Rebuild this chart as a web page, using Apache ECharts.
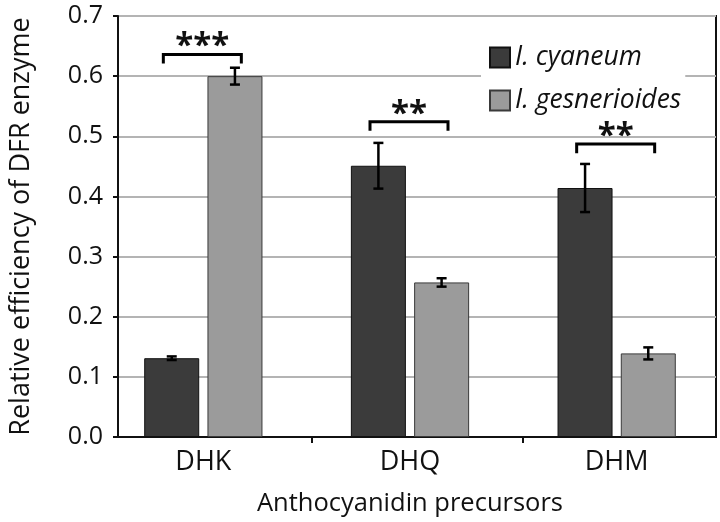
<!DOCTYPE html>
<html>
<head>
<meta charset="utf-8">
<script src="https://cdn.jsdelivr.net/npm/echarts@6/dist/echarts.min.js"></script>
<style>html,body{margin:0;padding:0;background:#fff}#c{width:720px;height:522px}</style>
</head>
<body>
<div id="c"></div>
<script>
const categories = ['DHK', 'DHQ', 'DHM'];
const seriesNames = ['I. cyaneum', 'I. gesnerioides'];
const cyaneumMean = [0.131, 0.451, 0.414];
const cyaneumErr = [0.003, 0.038, 0.040];
const gesnerMean = [0.600, 0.257, 0.139];
const gesnerErr = [0.014, 0.007, 0.010];
const sigLabels = ['***', '**', '**'];
const sigTop = [0.636, 0.524, 0.487];
const sigLeg = [0.621, 0.509, 0.472];
const yTicks = [0, 0.1, 0.2, 0.3, 0.4, 0.5, 0.6, 0.7];

const FONT = 'Open Sans';
const BAR_W = 55;
const OFFSET = 31.6;

const errData = [];
for (let i = 0; i < categories.length; i++) {
  errData.push([i, cyaneumMean[i], cyaneumErr[i], -1]);
  errData.push([i, gesnerMean[i], gesnerErr[i], 1]);
}
const sigData = categories.map((c, i) => [i, sigTop[i], sigLeg[i], sigLabels[i]]);

const chart = echarts.init(document.getElementById('c'), null, {renderer: 'canvas'});
chart.setOption({
  animation: false,
  backgroundColor: '#fff',
  textStyle: {fontFamily: FONT},
  grid: [
    {left: 115, right: 4, top: 16, bottom: 85, show: true, borderColor: '#111', borderWidth: 2, backgroundColor: 'transparent'},
    {left: 100, right: -15, top: 16, bottom: 85}
  ],
  legend: {
    orient: 'vertical', left: 481, top: 36,
    padding: [8, 4, 8, 8],
    backgroundColor: '#fff',
    icon: 'rect',
    itemWidth: 20, itemHeight: 20, itemGap: 16,
    data: seriesNames,
    textStyle: {fontFamily: FONT, fontSize: 26.5, fontStyle: 'italic', color: '#111'}
  },
  xAxis: [
    {gridIndex: 0, type: 'value', min: 0.08, max: 2.92,
     axisLine: {show: true, lineStyle: {color: '#111', width: 2}},
     axisTick: {show: true, customValues: [1, 2], length: 6, inside: false, lineStyle: {color: '#111', width: 2}},
     axisLabel: {show: false}, splitLine: {show: false}},
    {gridIndex: 1, type: 'category', data: categories,
     axisLine: {show: false}, axisTick: {show: false},
     axisLabel: {fontFamily: FONT, fontSize: 27, color: '#111', margin: 12},
     name: 'Anthocyanidin precursors', nameLocation: 'middle', nameGap: 54,
     nameTextStyle: {fontFamily: FONT, fontSize: 25.5, color: '#111'}}
  ],
  yAxis: [
    {gridIndex: 0, type: 'value', min: 0, max: 0.7, interval: 0.1,
     axisLine: {show: true, lineStyle: {color: '#111', width: 2}},
     axisTick: {show: true, length: 5, lineStyle: {color: '#111', width: 2}},
     axisLabel: {fontFamily: FONT, fontSize: 25, color: '#111', margin: 15, formatter: v => v.toFixed(1)},
     splitLine: {show: true, lineStyle: {color: '#b4b4b4', width: 2}},
     name: 'Relative efficiency of DFR enzyme', nameLocation: 'middle', nameGap: 83, nameRotate: 90,
     nameTextStyle: {fontFamily: FONT, fontSize: 27, color: '#111'}},
    {gridIndex: 1, type: 'value', min: 0, max: 0.7, interval: 0.1, show: false, splitLine: {show: false}}
  ],
  series: [
    {name: seriesNames[0], type: 'bar', xAxisIndex: 1, yAxisIndex: 1, data: cyaneumMean,
     barWidth: BAR_W, barGap: '15%',
     itemStyle: {color: '#3b3b3b', borderColor: '#111', borderWidth: 1}},
    {name: seriesNames[1], type: 'bar', xAxisIndex: 1, yAxisIndex: 1, data: gesnerMean,
     barWidth: BAR_W, barGap: '15%',
     itemStyle: {color: '#9b9b9b', borderColor: '#3a3a3a', borderWidth: 1}},
    {type: 'custom', xAxisIndex: 1, yAxisIndex: 1, data: errData, z: 10,
     renderItem: function (params, api) {
       const c = api.coord([api.value(0), api.value(1)]);
       const x = c[0] + api.value(3) * OFFSET;
       const hi = api.coord([api.value(0), api.value(1) + api.value(2)])[1];
       const lo = api.coord([api.value(0), api.value(1) - api.value(2)])[1];
       const cap = 5;
       const st = {stroke: '#000', lineWidth: 2.5};
       return {type: 'group', children: [
         {type: 'line', shape: {x1: x, y1: hi, x2: x, y2: lo}, style: st},
         {type: 'line', shape: {x1: x - cap, y1: hi, x2: x + cap, y2: hi}, style: st},
         {type: 'line', shape: {x1: x - cap, y1: lo, x2: x + cap, y2: lo}, style: st}
       ]};
     }},
    {type: 'custom', xAxisIndex: 1, yAxisIndex: 1, data: sigData, z: 10,
     renderItem: function (params, api) {
       const cx = api.coord([api.value(0), 0])[0] - 1;
       const top = api.coord([api.value(0), api.value(1)])[1];
       const leg = api.coord([api.value(0), api.value(2)])[1];
       const hw = 39;
       return {type: 'group', children: [
         {type: 'polyline', shape: {points: [[cx - hw, leg], [cx - hw, top], [cx + hw, top], [cx + hw, leg]]},
          style: {stroke: '#000', lineWidth: 3, fill: null}},
         {type: 'text', x: cx, y: top + 9,
          style: {text: sigLabels[params.dataIndex], fontFamily: FONT, fontSize: 33, fontWeight: 'bold',
                  fill: '#111', align: 'center', verticalAlign: 'bottom'}}
       ]};
     }}
  ]
});
</script>
</body>
</html>
